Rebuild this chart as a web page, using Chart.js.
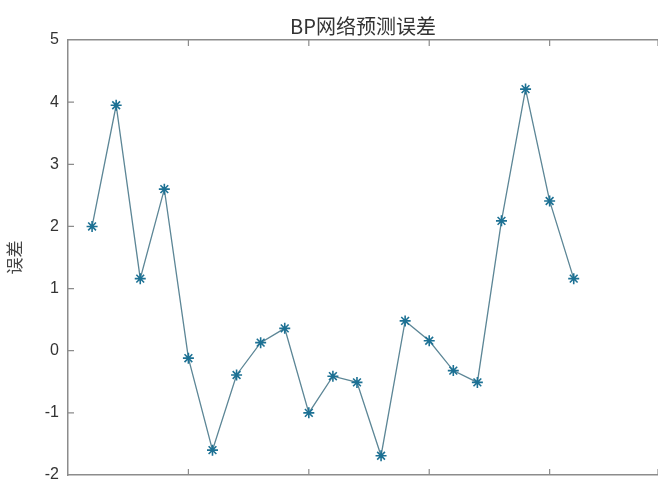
<!DOCTYPE html>
<html>
<head>
<meta charset="utf-8">
<script src="https://cdn.jsdelivr.net/npm/chart.js@4.4.1/dist/chart.umd.min.js"></script>
<style>
  html, body { margin: 0; padding: 0; background: #fff; overflow: hidden; }
</style>
</head>
<body>
<canvas id="wucha" width="658" height="481"></canvas>
<script>
// 样本序号
var xuhao = [1, 2, 3, 4, 5, 6, 7, 8, 9, 10, 11, 12, 13, 14, 15, 16, 17, 18, 19, 20, 21];
// BP网络预测误差
var wucha = [2.0, 3.95, 1.16, 2.6, -0.12, -1.6, -0.39, 0.13, 0.36, -1.0, -0.41, -0.51, -1.69, 0.48, 0.16, -0.32, -0.51, 2.09, 4.21, 2.41, 1.16];
var yTicks = [-2, -1, 0, 1, 2, 3, 4, 5];

var tocke = [];
for (var i = 0; i < xuhao.length; i++) {
    tocke.push({ x: xuhao[i], y: wucha[i] });
}

var osa = '#8c8c8c';

// crtice prema unutra, kao u matlabu
var unutarnjeCrtice = {
    id: 'unutarnjeCrtice',
    afterDraw: function (chart) {
        var ctx = chart.ctx;
        var area = chart.chartArea;
        ctx.save();
        ctx.strokeStyle = osa;
        ctx.lineWidth = 1.2;
        ctx.beginPath();
        chart.scales.y.ticks.forEach(function (t) {
            var py = chart.scales.y.getPixelForValue(t.value);
            if (t.value <= -2 || t.value >= 5) return;
            ctx.moveTo(area.left, py);
            ctx.lineTo(area.left + 6, py);
        });
        chart.scales.x.ticks.forEach(function (t) {
            if (t.value <= 0) return;
            var px = chart.scales.x.getPixelForValue(t.value);
            ctx.moveTo(px, area.bottom);
            ctx.lineTo(px, area.bottom - 6);
            ctx.moveTo(px, area.top);
            ctx.lineTo(px, area.top + 6);
        });
        ctx.stroke();
        ctx.restore();
    }
};

function bezPadinga(s) {
    s.paddingTop = 0;
    s.paddingBottom = 0;
    s.paddingLeft = 0;
    s.paddingRight = 0;
}

var ctx = document.getElementById('wucha').getContext('2d');
var grafikon = new Chart(ctx, {
    type: 'line',
    data: {
        datasets: [{
            data: tocke,
            borderColor: '#5c8696',
            borderWidth: 1.3,
            pointStyle: 'star',
            pointRadius: 5.5,
            pointBorderColor: '#1d7194',
            pointBorderWidth: 1.6,
            pointBackgroundColor: '#1d7194',
            tension: 0,
            clip: false
        }]
    },
    options: {
        responsive: false,
        animation: false,
        layout: { padding: 0, autoPadding: false },
        plugins: {
            legend: { display: false },
            tooltip: { enabled: false },
            title: { display: false }
        },
        scales: {
            x: {
                type: 'linear',
                position: 'bottom',
                min: 0,
                max: 24.5,
                ticks: { display: false, stepSize: 5 },
                grid: { drawOnChartArea: false, drawTicks: false },
                border: { color: osa, width: 1.5 },
                afterFit: function (s) { s.height = 6; bezPadinga(s); }
            },
            x2: {
                type: 'linear',
                position: 'top',
                min: 0,
                max: 24.5,
                ticks: { display: false, stepSize: 5 },
                grid: { drawOnChartArea: false, drawTicks: false },
                border: { color: osa, width: 1.5 },
                title: {
                    display: true,
                    text: 'BP网络预测误差',
                    color: '#333',
                    font: { family: '"Noto Sans CJK SC", "Liberation Sans", sans-serif', size: 20 },
                    padding: { top: 14, bottom: 0 }
                },
                afterFit: function (s) { s.height = 40; bezPadinga(s); }
            },
            y: {
                min: -2,
                max: 5,
                afterBuildTicks: function (s) {
                    s.ticks = yTicks.map(function (v) { return { value: v }; });
                },
                ticks: {
                    color: '#333',
                    padding: 9,
                    font: { family: '"Liberation Sans", Arial, sans-serif', size: 16 }
                },
                grid: { drawOnChartArea: false, drawTicks: false },
                border: { color: osa, width: 1.5 },
                title: {
                    display: true,
                    text: '误差',
                    color: '#444',
                    font: { family: '"Noto Sans CJK SC", sans-serif', size: 17 },
                    padding: { top: 4, bottom: 0 }
                },
                afterFit: function (s) { s.width = 68; bezPadinga(s); }
            }
        }
    },
    plugins: [unutarnjeCrtice]
});
</script>
</body>
</html>
